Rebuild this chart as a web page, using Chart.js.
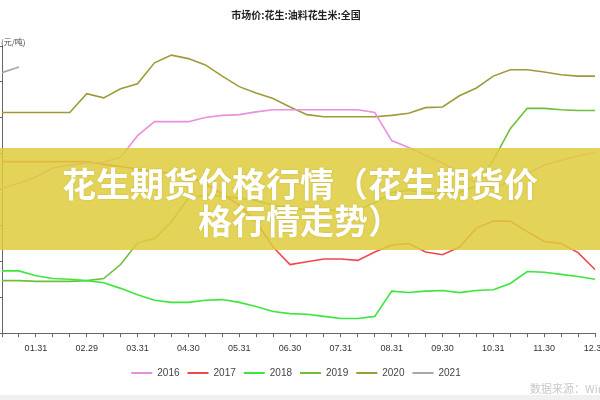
<!DOCTYPE html>
<html>
<head>
<meta charset="utf-8">
<script src="https://cdn.jsdelivr.net/npm/chart.js@4"></script>
<style>
  html, body { margin: 0; padding: 0; background: #fff; }
  #wrap { position: relative; width: 600px; height: 400px; overflow: hidden; }
  #chartBox { position: absolute; left: -20px; top: 0; width: 640px; height: 400px; }
  #unit { position: absolute; left: 1px; top: 36px; font: 8px "Noto Sans CJK SC", sans-serif; color: #444; }
  #banner {
    position: absolute; left: 0; top: 148px; width: 600px; height: 102px;
    background: rgba(222, 205, 60, 0.85);
    color: #fff; text-align: center;
    font: bold 34px/37px "Noto Sans CJK SC", sans-serif;
    padding-top: 16px; box-sizing: border-box;
    text-shadow: 0 0 2px rgba(150, 130, 20, 0.4);
  }
  #footer { position: absolute; left: 0; top: 395px; width: 600px; height: 5px; background: #f0f0f0; }
  #source { position: absolute; left: 530px; top: 380px; font: 11px "Noto Sans CJK SC", sans-serif; color: #c8c8c8; white-space: nowrap; }
</style>
</head>
<body>
<div id="wrap">
  <div id="chartBox"><canvas id="myChart"></canvas></div>
  <div id="unit">(元/吨)</div>
  <div id="banner">花生期货价格行情（花生期货价<br>格行情走势）</div>
  <div id="footer"></div>
  <div id="source">数据来源：Wind</div>
</div>
<script>
// ten-day points through the year
let dekads = ['01.10','01.20','01.31','02.10','02.20','02.29','03.10','03.20','03.31',
  '04.10','04.20','04.30','05.10','05.20','05.31','06.10','06.20','06.30',
  '07.10','07.20','07.31','08.10','08.20','08.31','09.10','09.20','09.30',
  '10.10','10.20','10.31','11.10','11.20','11.30','12.10','12.20','12.31']

// labels actually shown on the x axis
let monthEnds = ['01.31','02.29','03.31','04.30','05.31','06.30','07.31','08.31','09.30','10.31','11.30','12.31']

// price series, 元/吨
let y2016 = [8470,8540,8630,8760,8800,8830,8840,8910,9220,9420,9420,9420,9480,9510,9520,9560,9590,9590,
  9590,9590,9590,9590,9550,9150,9050,8940,8830,8700,8540,8470,8570,8680,8800,8870,8930,8980]
let y2017 = [8850,8850,8850,8850,8850,8850,8810,8780,8740,8710,8680,8640,8530,8390,8230,7990,7630,7380,
  7420,7460,7460,7440,7560,7660,7680,7560,7520,7630,7900,8000,8000,7850,7710,7680,7550,7310]
let y2018 = [7290,7290,7220,7180,7170,7150,7120,7040,6950,6870,6840,6840,6870,6880,6840,6780,6710,6680,
  6670,6640,6610,6610,6640,7000,6980,7000,7010,6980,7010,7020,7110,7280,7270,7240,7210,7170]
let y2019 = [7150,7150,7140,7140,7140,7150,7180,7380,7690,7750,7990,8330,8370,8360,8330,8290,8230,8190,
  8160,8160,8150,8160,8260,8410,8440,8410,8390,8410,8500,8870,9320,9610,9610,9590,9580,9580]
let y2020 = [9550,9550,9550,9550,9550,9820,9760,9890,9960,10260,10370,10320,10230,10070,9920,9830,9750,9630,
  9520,9490,9490,9490,9490,9510,9540,9620,9630,9790,9900,10070,10160,10160,10130,10090,10070,10070]
let y2021 = [10120,10200]

let seriesNames = ['2016','2017','2018','2019','2020','2021']
let seriesData = [y2016, y2017, y2018, y2019, y2020, y2021]
let seriesColors = ['#e890dc','#f04848','#3de63d','#6cbf3a','#9e9a3a','#a8a8a8']

let datasets = seriesNames.map(function(name, i) {
  return {
    label: name,
    data: seriesData[i],
    borderColor: seriesColors[i],
    backgroundColor: seriesColors[i],
    borderWidth: 1.6,
    pointRadius: 0,
    tension: 0,
    fill: false
  }
})

new Chart(document.getElementById('myChart'), {
  type: 'line',
  data: { labels: dekads, datasets: datasets },
  options: {
    responsive: true,
    maintainAspectRatio: false,
    animation: false,
    layout: { padding: { left: 17, right: 25, top: 0, bottom: 12 } },
    plugins: {
      title: {
        display: true,
        text: '市场价:花生:油料花生米:全国',
        color: '#222',
        font: { size: 10, weight: 'bold', family: 'Noto Sans CJK SC' },
        padding: { top: 9, bottom: 25 }
      },
      legend: {
        position: 'bottom',
        labels: {
          boxWidth: 21,
          boxHeight: 2,
          padding: 8,
          color: '#444',
          font: { size: 10, family: 'Liberation Sans' },
          generateLabels: function(chart) {
            return Chart.defaults.plugins.legend.labels.generateLabels(chart).map(function(l) {
              l.lineWidth = 0
              l.fillStyle = l.strokeStyle
              return l
            })
          }
        }
      },
      tooltip: { enabled: false }
    },
    scales: {
      x: {
        offset: false,
        border: { color: '#666' },
        grid: { drawOnChartArea: false, color: '#666', tickLength: 4 },
        ticks: {
          autoSkip: false,
          maxRotation: 0,
          padding: 6,
          color: '#333',
          font: { size: 9, family: 'Liberation Sans' },
          callback: function(value) {
            let label = this.getLabelForValue(value)
            return monthEnds.includes(label) ? label : ''
          }
        }
      },
      y: {
        min: 6400,
        max: 10500,
        border: { color: '#666' },
        grid: { drawOnChartArea: false, color: '#666', tickLength: 5 },
        ticks: { display: false, stepSize: 500 }
      }
    }
  }
})
</script>
</body>
</html>
